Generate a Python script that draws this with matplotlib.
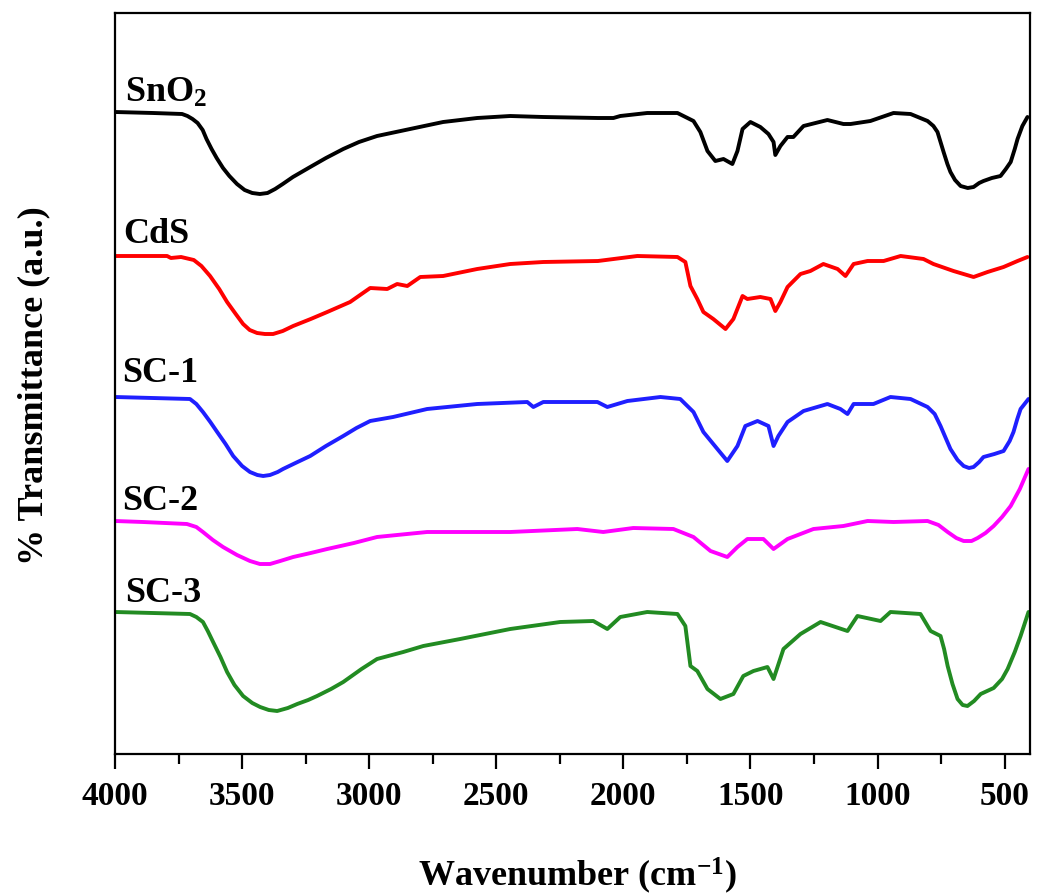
import matplotlib
matplotlib.use("Agg")
import matplotlib.pyplot as plt
from matplotlib.ticker import MultipleLocator

plt.rcParams['font.family'] = ['Liberation Serif', 'DejaVu Serif']
plt.rcParams['font.weight'] = 'bold'
plt.rcParams['mathtext.fontset'] = 'custom'
plt.rcParams['mathtext.rm'] = 'Liberation Serif:bold'
plt.rcParams['mathtext.bf'] = 'Liberation Serif:bold'
plt.rcParams['mathtext.it'] = 'Liberation Serif:bold:italic'

# ---- data (wavenumber in cm^-1, transmittance in a.u., curves offset vertically) ----
sno2_wn = [4000, 3850, 3736, 3715, 3695, 3675, 3655, 3640, 3620, 3600, 3575, 3550, 3520,
           3490, 3460, 3430, 3400, 3370, 3340, 3300, 3232, 3170, 3102, 3040, 2969, 2839,
           2709, 2575, 2445, 2315, 2100, 2039, 2012, 1906, 1787, 1724, 1697, 1669, 1638,
           1606, 1571, 1551, 1531, 1500, 1461, 1429, 1409, 1402, 1382, 1354, 1331, 1291,
           1197, 1134, 1106, 1028, 937, 870, 803, 780, 764, 752, 740, 725, 713, 695, 673,
           645, 622, 600, 583, 550, 516, 495, 476, 460, 449, 430, 410]
sno2_t = [642, 641, 640, 638, 635, 631, 624, 615, 605, 596, 586, 578, 570,
          564, 561, 560, 561, 565, 570, 577, 587, 596, 605, 612, 618, 625,
          632, 636, 638, 637, 636, 636, 638, 641, 641, 633, 622, 603, 593,
          595, 590, 603, 625, 632, 627, 620, 612, 599, 608, 617, 617, 628,
          634, 630, 630, 633, 641, 640, 633, 628, 622, 612, 602, 590, 582, 574, 568,
          566, 567, 571, 573, 576, 578, 585, 592, 605, 615, 628, 637]

cds_wn = [4000, 3795, 3780, 3740, 3690, 3660, 3626, 3590, 3559, 3525, 3496, 3470, 3441,
          3410, 3378, 3340, 3299, 3230, 3165, 3075, 3030, 2996, 2929, 2890, 2850, 2799,
          2709, 2575, 2445, 2315, 2100, 1945, 1787, 1756, 1736, 1709, 1685, 1646, 1598,
          1567, 1531, 1512, 1461, 1421, 1402, 1382, 1354, 1303, 1264, 1213, 1157, 1126,
          1094, 1039, 976, 909, 819, 780, 701, 622, 567, 504, 449, 410]
cds_t = [498, 498, 496, 497, 494, 488, 478, 465, 452, 440, 430, 424, 421,
         420, 420, 423, 428, 435, 442, 452, 460, 466, 465, 470, 468, 477,
         478, 485, 490, 492, 493, 498, 497, 492, 468, 455, 442, 435, 425,
         435, 458, 455, 457, 455, 443, 452, 467, 480, 483, 490, 485, 478,
         490, 493, 493, 498, 495, 490, 483, 477, 482, 487, 493, 497]

sc1_wn = [4000, 3705, 3680, 3654, 3625, 3598, 3565, 3535, 3500, 3469, 3440, 3417, 3390,
          3360, 3339, 3290, 3232, 3170, 3102, 3050, 2996, 2906, 2772, 2575, 2378, 2354,
          2315, 2102, 2063, 1984, 1854, 1776, 1724, 1685, 1630, 1591, 1551, 1520, 1472,
          1429, 1409, 1390, 1354, 1291, 1197, 1146, 1118, 1094, 1016, 949, 870, 803, 775,
          752, 730, 713, 685, 661, 640, 622, 600, 583, 540, 504, 480, 465, 450, 437, 406]
sc1_t = [357, 355, 350, 342, 332, 322, 310, 298, 288, 282, 279, 278, 279,
         282, 285, 291, 298, 308, 318, 326, 333, 337, 345, 350, 352, 347,
         352, 352, 347, 353, 357, 355, 342, 322, 305, 293, 308, 328, 333,
         328, 308, 318, 332, 343, 350, 345, 340, 350, 350, 357, 355, 347, 340,
         328, 315, 305, 294, 288, 286, 287, 292, 297, 300, 303, 313, 322, 335, 345, 355]

sc2_wn = [4000, 3890, 3717, 3680, 3654, 3615, 3575, 3520, 3469, 3430, 3390, 3350, 3299,
          3230, 3165, 3060, 2969, 2772, 2445, 2181, 2079, 1961, 1803, 1724, 1657, 1591,
          1551, 1512, 1449, 1409, 1354, 1252, 1134, 1039, 937, 803, 760, 724, 690, 661,
          630, 606, 575, 543, 510, 476, 440, 406]
sc2_t = [233, 232, 230, 227, 222, 214, 207, 199, 193, 190, 190, 193, 197,
         201, 205, 211, 217, 222, 222, 225, 222, 226, 225, 217, 203, 197,
         207, 215, 215, 205, 215, 225, 228, 233, 232, 233, 229, 222, 216, 213,
         213, 216, 221, 228, 237, 248, 265, 285]

sc3_wn = [4000, 3705, 3680, 3654, 3635, 3614, 3585, 3559, 3530, 3496, 3460, 3429, 3395,
          3362, 3320, 3283, 3240, 3205, 3150, 3102, 3030, 2969, 2866, 2787, 2642, 2445,
          2248, 2118, 2063, 2012, 1906, 1787, 1756, 1736, 1709, 1669, 1618, 1567, 1528,
          1488, 1433, 1409, 1370, 1303, 1224, 1118, 1079, 988, 949, 831, 791, 752, 738,
          724, 705, 685, 665, 646, 620, 594, 543, 510, 488, 460, 437, 406]
sc3_t = [142, 140, 137, 132, 123, 112, 97, 82, 69, 58, 51, 47, 44,
         43, 46, 50, 54, 58, 65, 72, 85, 95, 102, 108, 115, 125,
         132, 133, 125, 137, 142, 140, 128, 88, 83, 65, 55, 60, 78,
         83, 87, 75, 105, 120, 132, 123, 138, 133, 142, 140, 123, 118, 105,
         88, 70, 55, 49, 48, 53, 60, 66, 75, 85, 102, 118, 142]

series_names = ['SnO$_{2}$', 'CdS', 'SC-1', 'SC-2', 'SC-3']
series_wn = [sno2_wn, cds_wn, sc1_wn, sc2_wn, sc3_wn]
series_t = [sno2_t, cds_t, sc1_t, sc2_t, sc3_t]
series_colors = ['#000000', '#ff0000', '#1f1fff', '#ff00ff', '#228b22']
label_pos = [(3962, 653), (3968, 512), (3972, 373), (3972, 245), (3962, 153)]

xticks = [4000, 3500, 3000, 2500, 2000, 1500, 1000, 500]

W, H = 1037, 895
fig = plt.figure(figsize=(W / 100, H / 100), dpi=100)
ax = fig.add_axes([115 / W, 1 - 755 / H, 915 / W, 741 / H])

for wn, t, c in zip(series_wn, series_t, series_colors):
    ax.plot(wn, t, color=c, lw=2.8, solid_joinstyle='round', solid_capstyle='round')

for name, (xp, yp) in zip(series_names, label_pos):
    ax.text(xp, yp, name, fontsize=26, fontweight='bold', ha='left', va='baseline')

ax.set_xlim(4000, 400)
ax.set_ylim(0, 741)
ax.set_xticks(xticks)
ax.xaxis.set_minor_locator(MultipleLocator(250))
ax.set_yticks([])
ax.tick_params(axis='x', which='major', direction='out', length=11, width=1.6,
               labelsize=24, pad=8)
ax.tick_params(axis='x', which='minor', direction='out', length=7, width=1.6)
for lab in ax.get_xticklabels():
    lab.set_fontweight('bold')
for sp in ax.spines.values():
    sp.set_linewidth(1.6)

fig.text(577 / W, 1 - 886 / H, 'Wavenumber (cm$^{-1}$)', fontsize=26,
         fontweight='bold', ha='center', va='baseline')
fig.text(34 / W, 1 - 386 / H, '% Transmittance (a.u.)', fontsize=26,
         fontweight='bold', ha='center', va='center', rotation=90)

fig.savefig('out.png', dpi=100, facecolor='white')
